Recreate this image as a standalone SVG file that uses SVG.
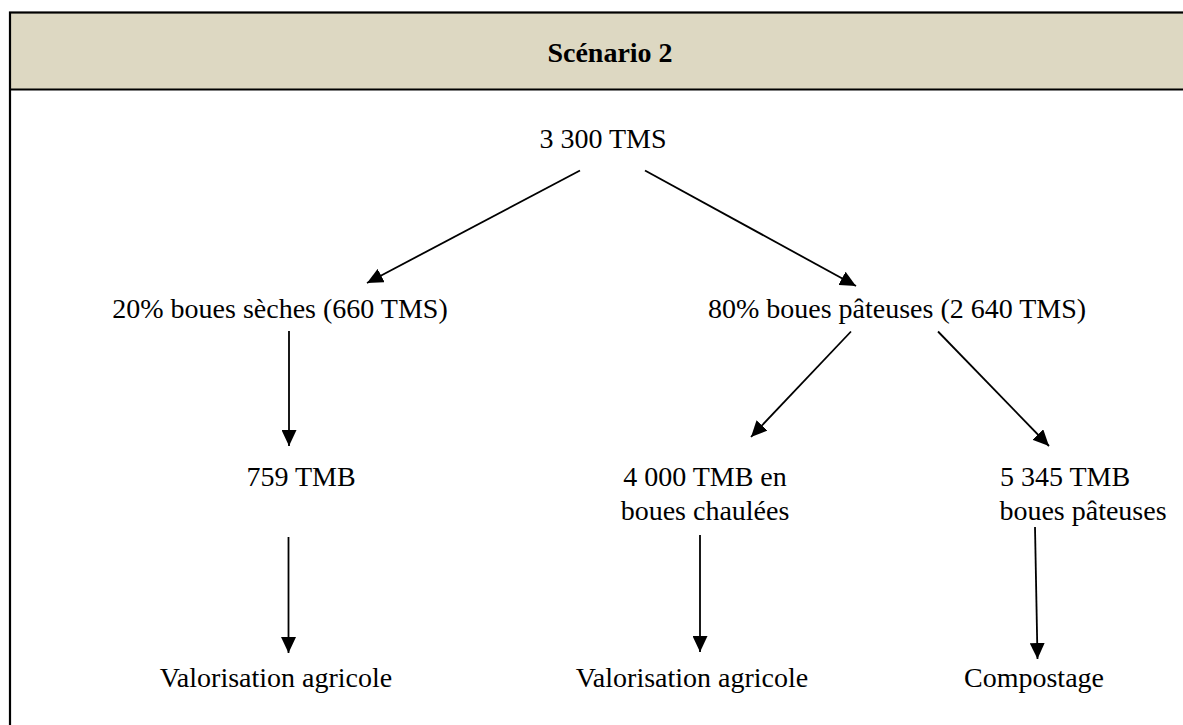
<svg xmlns="http://www.w3.org/2000/svg" width="1183" height="725" viewBox="0 0 1183 725">
<style>
.t{font-family:"Liberation Serif","Times New Roman",serif;font-size:28px;fill:#000;text-anchor:middle}
.h{font-family:"Liberation Serif","Times New Roman",serif;font-size:28px;font-weight:bold;fill:#000;text-anchor:middle}
.c{stroke:#000;stroke-width:1.8;fill:none;marker-end:url(#ah)}
</style>
<defs>
<marker id="ah" markerUnits="userSpaceOnUse" markerWidth="17" markerHeight="15" refX="16" refY="7.5" orient="auto">
<path d="M0,0 L16,7.5 L0,15 z" fill="#000"/>
</marker>
</defs>
<g id="frame">
<rect x="10" y="12.5" width="1190" height="77" fill="#DDD8C2"/>
<rect x="10" y="12.5" width="1190" height="730" fill="none" stroke="#000" stroke-width="2.2"/>
<line x1="10" y1="89.5" x2="1200" y2="89.5" stroke="#000" stroke-width="2.2"/>
</g>
<g id="title"><text class="h" x="610" y="62">Scénario 2</text></g>
<g id="n0"><text class="t" x="603" y="148">3 300 TMS</text></g>
<g id="n1"><text class="t" x="280" y="318">20% boues sèches (660 TMS)</text></g>
<g id="n2"><text class="t" x="897" y="318">80% boues pâteuses (2 640 TMS)</text></g>
<g id="n3"><text class="t" x="301" y="486">759 TMB</text></g>
<g id="n4"><text class="t" x="705" y="486">4 000 TMB en</text><text class="t" x="705" y="520">boues chaulées</text></g>
<g id="n5"><text class="t" x="1065" y="486">5 345 TMB</text><text class="t" x="1083" y="520">boues pâteuses</text></g>
<g id="n6"><text class="t" x="276" y="687">Valorisation agricole</text></g>
<g id="n7"><text class="t" x="692" y="687">Valorisation agricole</text></g>
<g id="n8"><text class="t" x="1034" y="687">Compostage</text></g>
<g id="connectors">
<line class="c" x1="580" y1="170.5" x2="367" y2="283"/>
<line class="c" x1="645" y1="170.5" x2="856" y2="286"/>
<line class="c" x1="289" y1="331" x2="289" y2="446"/>
<line class="c" x1="851" y1="331.5" x2="751" y2="437"/>
<line class="c" x1="938" y1="331.5" x2="1049" y2="446"/>
<line class="c" x1="288.5" y1="537" x2="288.5" y2="653"/>
<line class="c" x1="700" y1="535" x2="700" y2="652"/>
<line class="c" x1="1035" y1="527" x2="1037.5" y2="659"/>
</g>
</svg>
